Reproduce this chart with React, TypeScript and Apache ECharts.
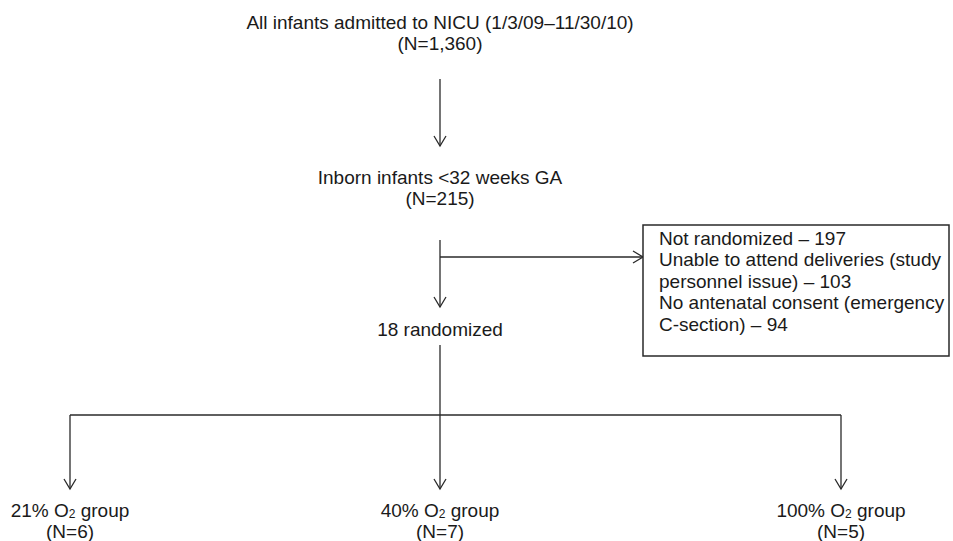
import React, { useEffect, useRef } from "react";
import * as echarts from "echarts";

// ---- Content (data) ----
const titleLines = ["All infants admitted to NICU (1/3/09–11/30/10)", "(N=1,360)"];
const inbornLines = ["Inborn infants <32 weeks GA", "(N=215)"];
const exclusionLines = [
  "Not randomized – 197",
  "Unable to attend deliveries (study",
  "personnel issue) – 103",
  "No antenatal consent (emergency",
  "C-section) – 94",
];
const randomizedLabel = "18 randomized";
const groupPercents = ["21%", "40%", "100%"];
const groupCounts = [6, 7, 5];

// ---- Layout / style ----
const FONT = '"Liberation Sans", Arial, Helvetica, sans-serif';
const TEXT_COLOR = "#1a1a1a";
const LINE_COLOR = "#2a2a2a";
const LW = 1.3;
const FS = 19;

const X_MAIN = 440;
const GROUP_X = [70, X_MAIN, 841];

function seg(x1: number, y1: number, x2: number, y2: number) {
  return {
    type: "line",
    shape: { x1, y1, x2, y2 },
    style: { stroke: LINE_COLOR, lineWidth: LW },
    silent: true,
  };
}

function arrowDown(x: number, y1: number, y2: number) {
  return [
    seg(x, y1, x, y2),
    {
      type: "polyline",
      shape: { points: [[x - 6, y2 - 10], [x, y2], [x + 6, y2 - 10]] },
      style: { stroke: LINE_COLOR, lineWidth: LW, fill: "none" },
      silent: true,
    },
  ];
}

function arrowRight(x1: number, x2: number, y: number) {
  return [
    seg(x1, y, x2, y),
    {
      type: "polyline",
      shape: { points: [[x2 - 10, y - 6], [x2, y], [x2 - 10, y + 6]] },
      style: { stroke: LINE_COLOR, lineWidth: LW, fill: "none" },
      silent: true,
    },
  ];
}

function txt(text: string, x: number, y: number, align = "center", lh = 20) {
  return {
    type: "text",
    x,
    y,
    silent: true,
    style: {
      text,
      fill: TEXT_COLOR,
      fontSize: FS,
      fontFamily: FONT,
      lineHeight: lh,
      align,
      verticalAlign: "middle",
    },
  };
}

function groupLabel(pct: string, x: number, y: number) {
  return {
    type: "text",
    x,
    y,
    silent: true,
    style: {
      text: `{n|${pct} O}{s|2}{n| group}`,
      fill: TEXT_COLOR,
      fontSize: FS,
      fontFamily: FONT,
      align: "center",
      verticalAlign: "middle",
      rich: {
        n: { fontSize: FS, fontFamily: FONT, lineHeight: 19 },
        s: { fontSize: 12, fontFamily: FONT, lineHeight: 7, verticalAlign: "bottom" },
      },
    },
  };
}

export default function App() {
  const ref = useRef<HTMLDivElement>(null);

  useEffect(() => {
    document.body.style.margin = "0";
    if (!ref.current) return;
    const chart = echarts.init(ref.current, undefined, { renderer: "svg" });

    const elements: any[] = [];

    // Title
    elements.push(txt(titleLines[0], X_MAIN, 22));
    elements.push(txt(titleLines[1], X_MAIN, 43));
    elements.push(...arrowDown(X_MAIN, 79, 146));

    // Inborn
    elements.push(txt(inbornLines[0], X_MAIN, 177));
    elements.push(txt(inbornLines[1], X_MAIN, 198));
    elements.push(...arrowDown(X_MAIN, 240, 307));
    elements.push(...arrowRight(X_MAIN, 643, 257));

    // Exclusion box
    elements.push({
      type: "rect",
      shape: { x: 643, y: 225, width: 306, height: 131 },
      style: { stroke: LINE_COLOR, lineWidth: 1.5, fill: "#ffffff" },
      silent: true,
    });
    exclusionLines.forEach((line, i) => {
      elements.push(txt(line, 659, 238 + i * 21.5, "left"));
    });

    // Randomized
    elements.push(txt(randomizedLabel, X_MAIN, 329));
    elements.push(seg(X_MAIN, 345, X_MAIN, 415));
    elements.push(seg(GROUP_X[0], 415, GROUP_X[2], 415));

    groupPercents.forEach((pct, i) => {
      const gx = GROUP_X[i];
      elements.push(...arrowDown(gx, 415, 489));
      elements.push(groupLabel(pct, gx, 510));
      elements.push(txt(`(N=${groupCounts[i]})`, gx, 531, "center", 18));
    });

    chart.setOption({
      animation: false,
      backgroundColor: "#ffffff",
      graphic: { elements },
    });

    return () => chart.dispose();
  }, []);

  return <div ref={ref} style={{ width: 953, height: 541 }} />;
}
